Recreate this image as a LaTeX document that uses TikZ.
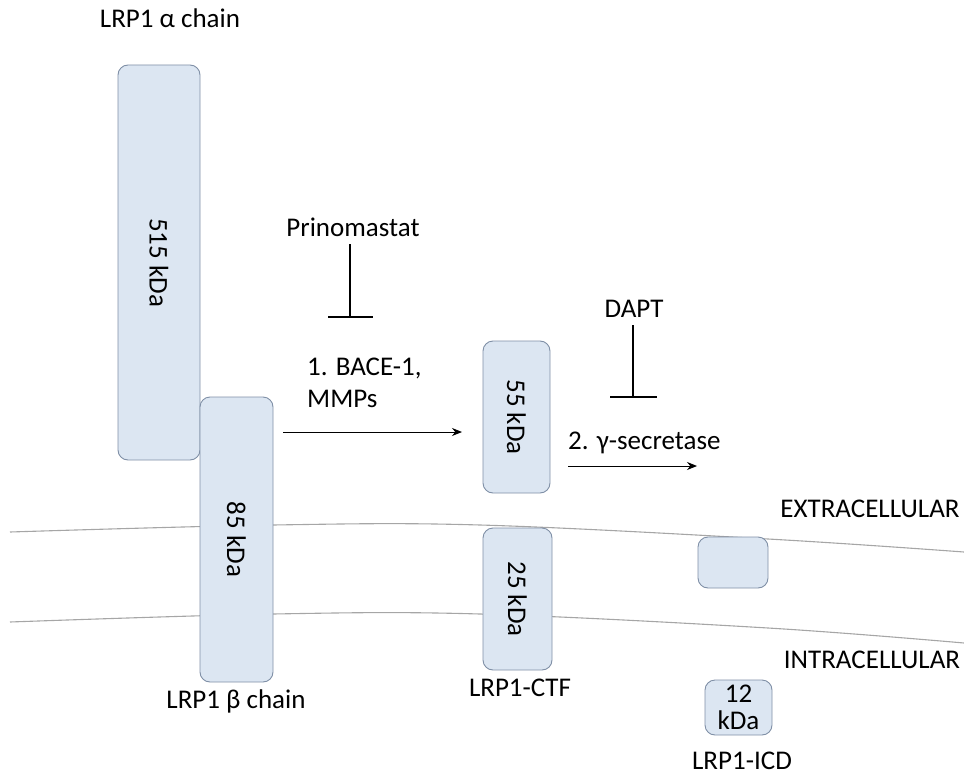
\documentclass[tikz,border=0pt]{standalone}
\usepackage{fontspec}
\setmainfont{Carlito}
\usetikzlibrary{arrows.meta}
\definecolor{boxfill}{HTML}{DCE6F2}
\definecolor{boxline}{HTML}{7F8FA6}
\definecolor{memb}{HTML}{A6A6A6}
\begin{document}
\begin{tikzpicture}[x=1pt,y=-1pt,
  prot/.style={draw=boxline, fill=boxfill, line width=0.9pt, rounded corners=10pt, inner sep=0pt, font=\fontsize{27}{30}\selectfont},
  lbl/.style={font=\fontsize{27}{32}\selectfont, inner sep=0pt},
  arr/.style={-{Stealth[length=10pt,width=8pt]}, line width=1pt},
  inh/.style={line width=2.8pt},
  membl/.style={draw=memb, line width=1.1pt}]
\useasboundingbox (0,0) rectangle (964,776);
% membrane
\draw[membl] plot[smooth, tension=0.6] coordinates {(10,532) (273,525) (480,525) (768,539) (964,552)};
\draw[membl] plot[smooth, tension=0.6] coordinates {(10,622) (273,614) (480,614) (768,628) (964,643)};
% proteins
\node[prot, minimum width=82pt, minimum height=395pt] (alpha) at (159,262.5) {\rotatebox{-90}{515 kDa}};
\node[prot, minimum width=73pt, minimum height=285pt] (beta) at (236.5,539.5) {\rotatebox{-90}{85 kDa}};
\node[prot, minimum width=67pt, minimum height=152pt] (p55) at (516.5,417) {\rotatebox{-90}{55 kDa}};
\node[prot, minimum width=69pt, minimum height=142pt] (p25) at (517.5,599) {\rotatebox{-90}{25 kDa}};
\node[prot, minimum width=70pt, minimum height=51pt] (tm) at (733,562.5) {};
\node[prot, minimum width=67pt, minimum height=55pt, align=center, font=\fontsize{27}{27}\selectfont] (icd) at (738.5,707.5) {12\\kDa};
% labels
\node[lbl] (la) at (170,18) {LRP1 α chain};
\node[lbl] (lb) at (236,701) {LRP1 β chain};
\node[lbl] (lctf) at (520,688) {LRP1-CTF};
\node[lbl] (licd) at (742,761) {LRP1-ICD};
\node[lbl] (ext) at (870,509) {EXTRACELLULAR};
\node[lbl] (int) at (872,660) {INTRACELLULAR};
\node[lbl] (prino) at (353,227) {Prinomastat};
\node[lbl] (dapt) at (634,309) {DAPT};
\node[lbl, anchor=north west, align=left] (bace) at (307,358) {1. BACE-1,\\MMPs};
\node[lbl, anchor=west] (gsec) at (568,443) {2. γ-secretase};
% arrows
\coordinate (a1s) at (283,432); \coordinate (a1e) at (462,432);
\draw[arr] (a1s) -- (a1e);
\coordinate (a2s) at (568,466); \coordinate (a2e) at (697,466);
\draw[arr] (a2s) -- (a2e);
% inhibitors
\coordinate (i1t) at (350,244); \coordinate (i1b) at (350,317);
\coordinate (i1l) at (328,317); \coordinate (i1r) at (373,317);
\draw[inh] (i1t) -- (i1b); \draw[inh] (i1l) -- (i1r);
\coordinate (i2t) at (633,325); \coordinate (i2b) at (633,397);
\coordinate (i2l) at (610,397); \coordinate (i2r) at (657,397);
\draw[inh] (i2t) -- (i2b); \draw[inh] (i2l) -- (i2r);
\end{tikzpicture}
\end{document}
